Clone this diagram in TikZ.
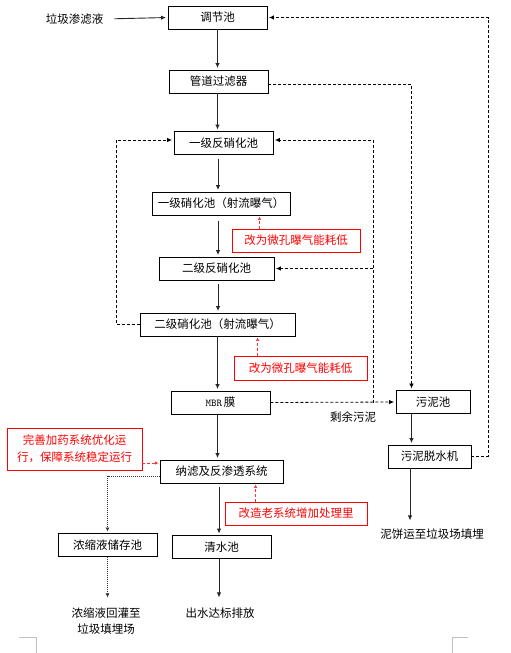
\documentclass[tikz,border=0pt]{standalone}
\usepackage{fontspec}
\setmainfont{Noto Sans CJK SC}
\usetikzlibrary{arrows.meta}
\newcommand\spineX{217.5}
\newcommand\leftX{116}
\newcommand\rightX{373}
\newcommand\sludgeX{411.5}
\newcommand\returnX{488}
\newcommand\boxH{23}

\tikzset{
  box/.style={draw, line width=0.9pt, minimum height=\boxH, inner sep=0pt, font=\fontsize{11.5}{13}\selectfont},
  notebox/.style={box, draw=red, text=red},
  plain/.style={inner sep=2pt, align=center, font=\fontsize{11.5}{16}\selectfont},
  flow/.style={line width=0.9pt, black!85, -{Latex[length=5pt,width=4.5pt]}, shorten >=1.5pt},
  back/.style={line width=0.8pt, dash pattern=on 3pt off 2pt, -{Latex[length=5pt,width=4.5pt]}, shorten >=1.5pt},
  noteflow/.style={line width=0.9pt, red!80, dash pattern=on 3pt off 2pt, -{Latex[length=3.5pt,width=3.5pt]}, shorten >=1pt},
  dotflow/.style={line width=0.8pt, black!80, dash pattern=on 1pt off 1pt, -{Latex[length=4pt,width=4pt]}, shorten >=1.5pt},
  corner/.style={line width=0.8pt, gray!50}
}

\begin{document}
\begin{tikzpicture}[x=1pt,y=-1pt]
    \useasboundingbox (0,0) rectangle (511,653);

    \coordinate (spine) at (\spineX,0);
    \coordinate (leftcol) at (\leftX,0);
    \coordinate (rightcol) at (\rightX,0);
    \coordinate (sludgecol) at (\sludgeX,0);
    \coordinate (returncol) at (\returnX,0);

    % PROCESS BOXES
    \foreach \name/\x/\y/\w/\txt in {
      tiaojie/217.5/17.5/99/调节池,
      guandao/218.5/81.5/99/管道过滤器,
      fanxiaoA/223.5/143/99/一级反硝化池,
      xiaohuaA/221/203.5/138/一级硝化池（射流曝气）,
      fanxiaoB/216.5/268.5/115/二级反硝化池,
      xiaohuaB/217.5/324.5/155/二级硝化池（射流曝气）,
      wunichi/433/402/74/污泥池,
      tuoshui/429.5/456.5/83/污泥脱水机,
      nalv/221.5/471.5/123/纳滤及反渗透系统,
      nongsuo/107.5/545/99/浓缩液储存池,
      qingshui/221.5/547/99/清水池}{
      \node[box, minimum width=\w] (\name) at (\x,\y) {\txt};
    }
    \node[box, minimum width=99] (mbr) at (220.5,402.5) {{\fontsize{10.5}{12}\selectfont\ttfamily MBR}\,膜};

    % NOTE BOXES
    \node[notebox, minimum width=128] (noteA) at (296,240.5) {改为微孔曝气能耗低};
    \node[notebox, minimum width=133, minimum height=24] (noteB) at (300.5,368) {改为微孔曝气能耗低};
    \node[notebox, minimum width=135, minimum height=42, align=center, font=\fontsize{11.5}{17}\selectfont] (noteC) at (74.5,449) {完善加药系统优化运\\行，保障系统稳定运行};
    \node[notebox, minimum width=142] (noteD) at (296,513.5) {改造老系统增加处理里};

    % TEXTS
    \node[plain] (inlet) at (74.5,19) {垃圾渗滤液};
    \node[plain] (shengyu) at (353,417) {剩余污泥};
    \node[plain] (nibing) at (432,534) {泥饼运至垃圾场填埋};
    \node[plain] (huiguan) at (106,621) {浓缩液回灌至\\垃圾填埋场};
    \node[plain] (chushui) at (220,613) {出水达标排放};

    % MAIN FLOW
    \draw[flow, shorten <=9pt] (inlet.east) -- (tiaojie.west);
    \draw[flow] (tiaojie.south -| spine) -- (guandao.north -| spine);
    \draw[flow] (guandao.south -| spine) -- (fanxiaoA.north -| spine);
    \draw[flow, shorten <=4pt] ([xshift=0.5pt]fanxiaoA.south -| spine) -- ([xshift=0.5pt]xiaohuaA.north -| spine);
    \draw[flow, shorten <=6pt] ([xshift=0.5pt]xiaohuaA.south -| spine) -- ([xshift=0.5pt]fanxiaoB.north -| spine);
    \draw[flow, shorten <=4pt] ([xshift=0.5pt]fanxiaoB.south -| spine) -- ([xshift=0.5pt]xiaohuaB.north -| spine);
    \draw[flow] (xiaohuaB.south -| spine) -- (mbr.north -| spine);
    \draw[flow] (mbr.south -| spine) -- (nalv.north -| spine);
    \draw[flow, shorten <=4pt] ([xshift=1.5pt]nalv.south -| spine) -- ([xshift=1.5pt]qingshui.north -| spine);
    \draw[flow, shorten >=8pt] ([xshift=1.5pt]qingshui.south -| spine) -- ([xshift=1.5pt]chushui.north -| spine);

    % SLUDGE LINE
    \draw[flow] (wunichi.south -| sludgecol) -- (tuoshui.north -| sludgecol);
    \draw[flow, shorten >=6pt] ([xshift=-1.5pt]tuoshui.south -| sludgecol) -- ([xshift=-1.5pt]nibing.north -| sludgecol);

    % RECYCLE AND SLUDGE (DASHED)
    \draw[back] ([yshift=-3pt]guandao.east) -| (sludgecol |- wunichi.north);
    \draw[back] (tuoshui.east) -- (tuoshui.east -| returncol) |- (tiaojie.east);
    \draw[back] (xiaohuaB.west) -- (xiaohuaB.west -| leftcol) |- ([yshift=3pt]fanxiaoA.west);
    \draw[back] (mbr.east) -- (wunichi.west);
    \draw[back] (mbr.east -| rightcol) |- ([yshift=3pt]fanxiaoA.east);
    \draw[back] (fanxiaoB.east -| rightcol) -- (fanxiaoB.east);

    % CONCENTRATE (DOTTED)
    \draw[dotflow] ([yshift=-4.5pt]nalv.west) -| (nongsuo.north);
    \draw[dotflow, shorten >=8pt] (nongsuo.south) -- (nongsuo.south |- huiguan.north);

    % NOTES
    \draw[noteflow] ([xshift=28pt]noteA.north west) -- ([xshift=28pt]noteA.north west |- xiaohuaA.south);
    \draw[noteflow] ([xshift=24pt]noteB.north west) -- ([xshift=24pt]noteB.north west |- xiaohuaB.south);
    \coordinate (noteCout) at ([yshift=-14pt]noteC.east);
    \draw[noteflow] (noteCout) -- (noteCout -| nalv.west);
    \draw[noteflow] ([xshift=31pt]noteD.north west) -- ([xshift=31pt]noteD.north west |- nalv.south);

    % PAGE CORNERS
    \draw[corner] (19,637) -- (36,637) -- (36,653);
    \draw[corner] (468,637) -- (452,637) -- (452,653);

  \end{tikzpicture}
\end{document}
